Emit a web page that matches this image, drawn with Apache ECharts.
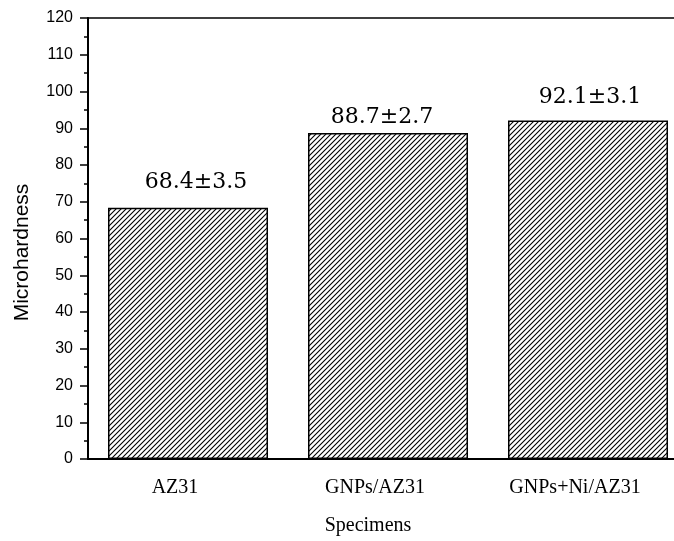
<!DOCTYPE html>
<html>
<head>
<meta charset="utf-8">
<script src="https://cdn.jsdelivr.net/npm/echarts@6/dist/echarts.min.js"></script>
<style>
html,body{margin:0;padding:0;background:#fff;overflow:hidden;width:674px;height:541px;}
#chart{width:688px;height:541px;}
</style>
</head>
<body>
<div id="chart"></div>
<script>
// ---- data ----
const categories = ['AZ31', 'GNPs/AZ31', 'GNPs+Ni/AZ31'];
const hardness = [68.4, 88.7, 92.1];
const errors = [3.5, 2.7, 3.1];
const yTicks = [0, 10, 20, 30, 40, 50, 60, 70, 80, 90, 100, 110, 120];
const xTitle = 'Specimens';
const yTitle = 'Microhardness';

// per-bar label nudges (layout only)
const labelOffsets = [[8, -14], [-6, -5], [2, -12]];

// hatch pattern
function hatch() {
  const s = 5;
  const c = document.createElement('canvas');
  c.width = s; c.height = s;
  const g = c.getContext('2d');
  g.fillStyle = '#fff';
  g.fillRect(0, 0, s, s);
  g.strokeStyle = '#000';
  g.lineWidth = 1.1;
  g.beginPath();
  g.moveTo(0, s); g.lineTo(s, 0);
  g.moveTo(-s, s); g.lineTo(s, -s);
  g.moveTo(0, 2 * s); g.lineTo(2 * s, 0);
  g.stroke();
  return c;
}
const pattern = { image: hatch(), repeat: 'repeat' };

const chart = echarts.init(document.getElementById('chart'), null, { renderer: 'canvas' });
chart.setOption({
  animation: false,
  backgroundColor: '#fff',
  grid: {
    left: 88, top: 18, right: 0, bottom: 82,
    show: true, borderColor: '#000', borderWidth: 1.5, backgroundColor: 'transparent'
  },
  xAxis: [{
    type: 'category',
    data: categories,
    position: 'bottom',
    axisLine: { lineStyle: { color: '#000', width: 2 } },
    axisTick: { alignWithLabel: true, length: 8, lineStyle: { color: '#000', width: 1.5 } },
    axisLabel: {
      color: '#000', fontFamily: 'Liberation Serif', fontSize: 20, margin: 19,
      padding: [0, 26, 0, 0]
    },
    name: xTitle,
    nameLocation: 'middle',
    nameGap: 57,
    nameTextStyle: { color: '#000', fontFamily: 'Liberation Serif', fontSize: 20, padding: [0, 40, 0, 0] }
  }, {
    type: 'category',
    data: categories,
    position: 'bottom',
    axisLine: { show: false },
    axisTick: { alignWithLabel: false, length: 4, lineStyle: { color: '#000', width: 1.5 } },
    axisLabel: { show: false }
  }],
  yAxis: {
    type: 'value',
    min: yTicks[0],
    max: yTicks[yTicks.length - 1],
    interval: yTicks[1] - yTicks[0],
    splitLine: { show: false },
    axisLine: { show: true, lineStyle: { color: '#000', width: 2 } },
    axisTick: { show: true, length: 8, lineStyle: { color: '#000', width: 1.5 } },
    minorTick: { show: true, splitNumber: 2, length: 4, lineStyle: { color: '#000', width: 1.5 } },
    axisLabel: { color: '#000', fontFamily: 'Liberation Sans', fontSize: 16, margin: 15 },
    name: yTitle,
    nameLocation: 'middle',
    nameGap: 55,
    nameTextStyle: { color: '#000', fontFamily: 'Liberation Sans', fontSize: 21, padding: [0, 28, 0, 0] }
  },
  series: [{
    type: 'bar',
    xAxisIndex: 0,
    barWidth: '80%',
    data: hardness.map((v, i) => ({
      value: v,
      label: { offset: labelOffsets[i] }
    })),
    itemStyle: { color: pattern, borderColor: '#000', borderWidth: 1.5 },
    label: {
      show: true,
      position: 'top',
      distance: 0,
      color: '#000',
      fontFamily: 'DejaVu Serif',
      fontSize: 22,
      lineHeight: 22,
      formatter: p => hardness[p.dataIndex].toFixed(1) + '±' + errors[p.dataIndex].toFixed(1)
    }
  }]
});
</script>
</body>
</html>
